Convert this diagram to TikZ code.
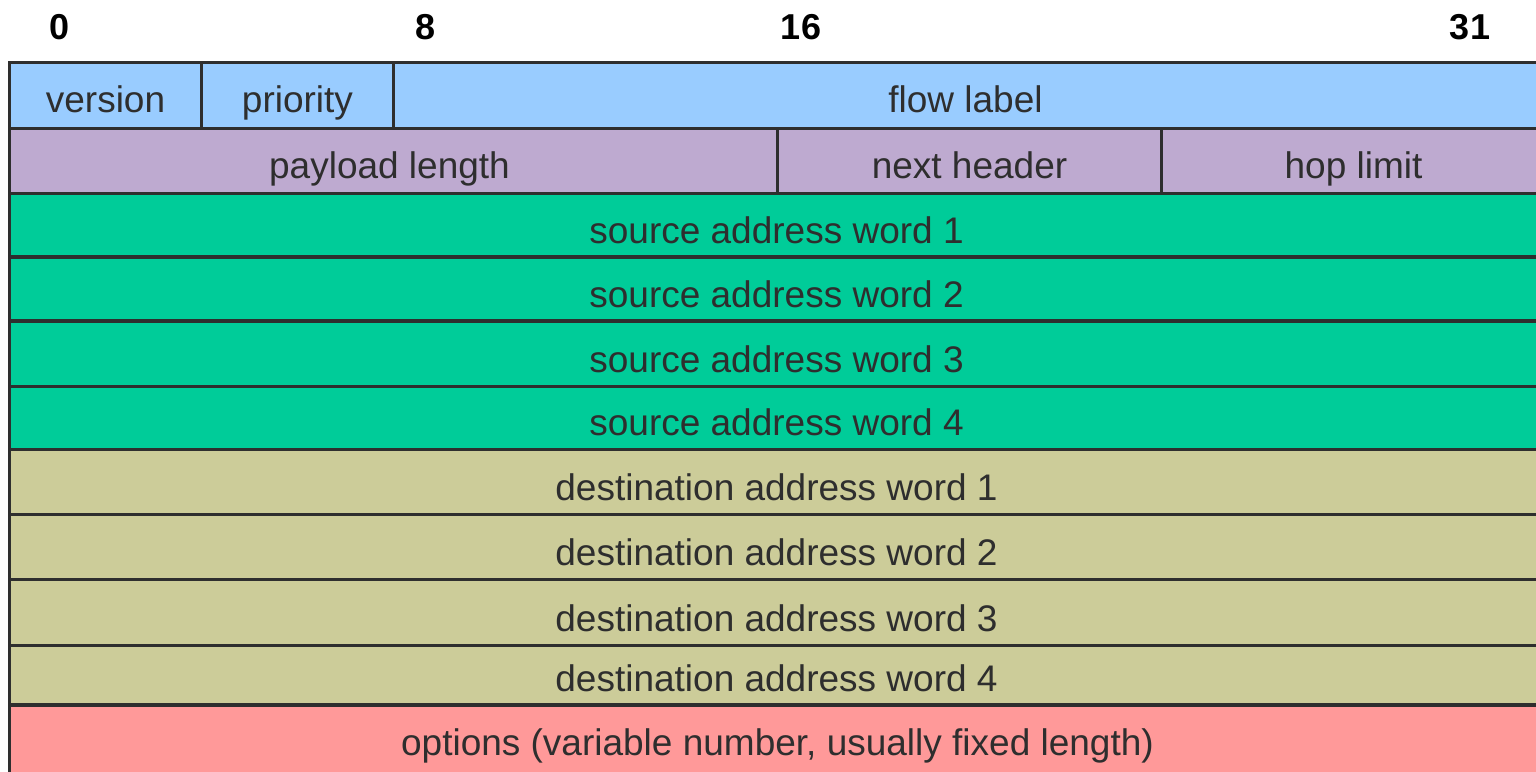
\documentclass[tikz,border=0pt]{standalone}
\usepackage{fontspec}
\setmainfont{Liberation Sans}
\definecolor{hdrblue}{HTML}{99CCFF}
\definecolor{hdrlilac}{HTML}{BEAAD0}
\definecolor{hdrgreen}{HTML}{00CC99}
\definecolor{hdrolive}{HTML}{CCCC99}
\definecolor{hdrpink}{HTML}{FF9999}
\definecolor{ink}{HTML}{2E2E2E}
\tikzset{
  cell/.style={draw=ink, line width=1.7pt},
  lab/.style={anchor=base, inner sep=0pt, text=ink, font=\fontsize{18.5}{22}\selectfont},
  bitno/.style={anchor=base, inner sep=0pt, text=black, font=\fontsize{18}{22}\selectfont\bfseries}
}
\begin{document}
\begin{tikzpicture}[x=0.5pt, y=-0.5pt]
\useasboundingbox (0,0) rectangle (1536,771);
\clip (0,0) rectangle (1536,771);
% bit positions
\node[bitno] (b0)  at (60,39.5)   {0};
\node[bitno] (b8)  at (426,39.5)  {8};
\node[bitno] (b16) at (801,39.5)  {16};
\node[bitno] (b31) at (1470,39.5) {31};
% column edges: 0, 4, 8, 16, 24, 32 bits
\def\ca{9.5}\def\cb{201.5}\def\cc{393.5}\def\cd{777.5}\def\ce{1161.5}\def\cf{1545.5}
% row 1
\path[cell, fill=hdrblue] (\ca,62.5) rectangle (\cb,128.3);
\path[cell, fill=hdrblue] (\cb,62.5) rectangle (\cc,128.3);
\path[cell, fill=hdrblue] (\cc,62.5) rectangle (\cf,128.3);
\node[lab] (version)  at ({(\ca+\cb)/2},112) {version};
\node[lab] (priority) at ({(\cb+\cc)/2},112) {priority};
\node[lab] (flow)     at ({(\cc+\cf)/2-4},112) {flow label};
% row 2
\path[cell, fill=hdrlilac] (\ca,128.3) rectangle (\cd,193.5);
\path[cell, fill=hdrlilac] (\cd,128.3) rectangle (\ce,193.5);
\path[cell, fill=hdrlilac] (\ce,128.3) rectangle (\cf,193.5);
\node[lab] (payload) at ({(\ca+\cd)/2-4},178.5) {payload length};
\node[lab] (next)    at ({(\cd+\ce)/2},178.5) {next header};
\node[lab] (hop)     at ({(\ce+\cf)/2},178.5) {hop limit};
% source address
\foreach \t/\b/\k in {193.5/257/1, 257/321/2, 321/386.5/3, 386.5/449.5/4}{
  \path[cell, fill=hdrgreen] (\ca,\t) rectangle (\cf,\b);
  \node[lab] (src\k) at ({(\ca+\cf)/2-1},{\b-14}) {source address word \k};
}
% destination address
\foreach \t/\b/\k in {449.5/514.3/1, 514.3/579.3/2, 579.3/645.7/3, 645.7/705/4}{
  \path[cell, fill=hdrolive] (\ca,\t) rectangle (\cf,\b);
  \node[lab] (dst\k) at ({(\ca+\cf)/2-1},{\b-14}) {destination address word \k};
}
% options
\path[cell, fill=hdrpink] (\ca,705) rectangle (\cf,790);
\node[lab] (opts) at ({(\ca+\cf)/2},755.5) {options (variable number, usually fixed length)};
\end{tikzpicture}
\end{document}
